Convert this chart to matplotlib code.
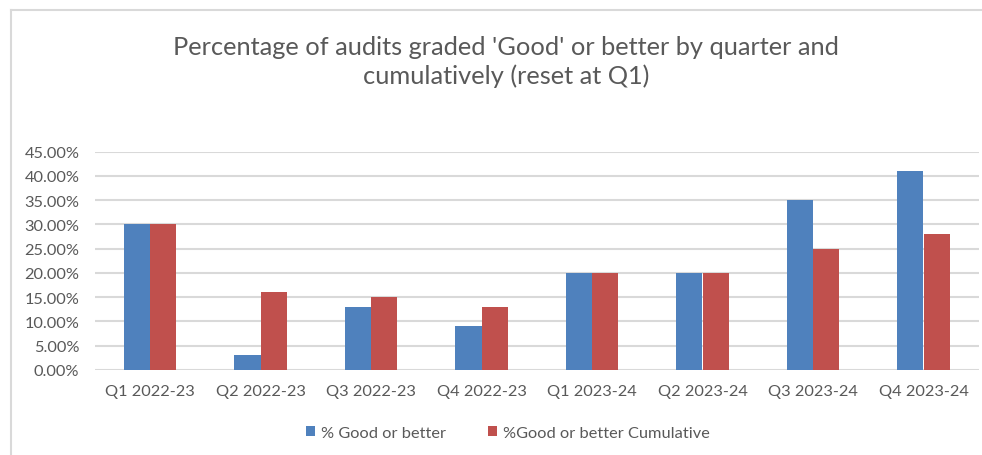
import matplotlib
matplotlib.use("Agg")
import matplotlib.pyplot as plt
import numpy as np
from matplotlib.ticker import PercentFormatter, MultipleLocator
from matplotlib.lines import Line2D

categories = ["Q1 2022-23", "Q2 2022-23", "Q3 2022-23", "Q4 2022-23",
              "Q1 2023-24", "Q2 2023-24", "Q3 2023-24", "Q4 2023-24"]
good = [0.30, 0.03, 0.13, 0.09, 0.20, 0.20, 0.35, 0.41]
cumulative = [0.30, 0.16, 0.15, 0.13, 0.20, 0.20, 0.25, 0.28]
series_names = ["% Good or better", "%Good or better Cumulative"]
title = "Percentage of audits graded 'Good' or better by quarter and\ncumulatively (reset at Q1)"

plt.rcParams['font.family'] = ['Lato', 'DejaVu Sans']
W, H = 982, 456
fig = plt.figure(figsize=(W / 100, H / 100), dpi=100)
ax = fig.add_axes([94.75 / W, 1 - 371 / H, 884 / W, (371 - 152.7) / H])

x = np.arange(len(categories))
bw = 0.236
blue = "#4F81BD"
red = "#C0504D"
ax.bar(x - bw / 2, good, bw, color=blue, label=series_names[0], zorder=3)
ax.bar(x + bw / 2, cumulative, bw, color=red, label=series_names[1], zorder=3)

ax.set_xlim(-0.5, len(categories) - 0.5)
ax.set_ylim(0, 0.45)
ax.yaxis.set_major_locator(MultipleLocator(0.05))
ax.yaxis.set_major_formatter(PercentFormatter(1.0, decimals=2))
ax.set_xticks(x)
ax.set_xticklabels(categories)
ax.grid(axis='y', color="#D9D9D9", linewidth=1.5, zorder=0)
for s in ax.spines.values():
    s.set_visible(False)
ax.tick_params(axis='both', length=0, colors="#595959", labelsize=11.8)
ax.tick_params(axis='y', pad=11)
ax.tick_params(axis='x', pad=10)

fig.text(506 / W, 1 - 62 / H, title, ha='center', va='center', fontsize=18.3,
         color="#595959", linespacing=1.3)

leg = fig.legend(handles=ax.get_legend_handles_labels()[0], labels=series_names,
                 loc='center', bbox_to_anchor=(508 / W, 1 - 434 / H), ncol=2, frameon=False,
                 fontsize=11.8, handlelength=0.55, handleheight=0.55, columnspacing=2.6,
                 handletextpad=0.35, labelcolor="#595959")

# chart border (left and top visible)
fig.add_artist(Line2D([11 / W, 11 / W], [0, 1 - 11 / H], color="#D9D9D9", linewidth=1.5,
                      transform=fig.transFigure))
fig.add_artist(Line2D([11 / W, 1], [1 - 11 / H, 1 - 11 / H], color="#D9D9D9", linewidth=1.5,
                      transform=fig.transFigure))

fig.savefig("out.png", dpi=100, facecolor="white")
